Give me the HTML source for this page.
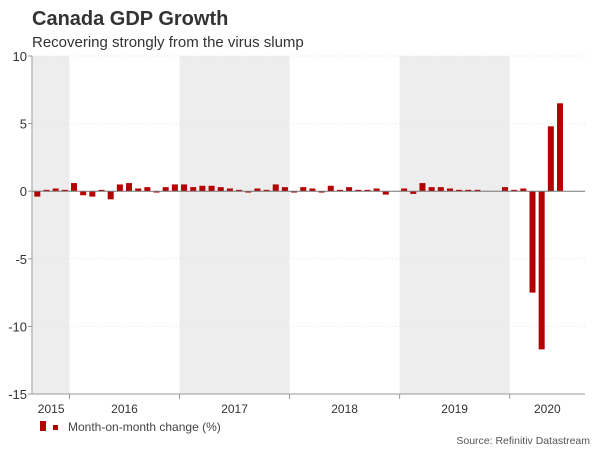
<!DOCTYPE html>
<html><head><meta charset="utf-8"><style>
body{margin:0;background:#fff;font-family:"Liberation Sans",Arial,sans-serif}
svg text{font-family:"Liberation Sans",Arial,sans-serif}
</style></head><body>
<svg id="c" width="600" height="450" viewBox="0 0 600 450">
<text x="32" y="25" font-size="20" font-weight="bold" fill="#333">Canada GDP Growth</text>
<text x="32" y="47" font-size="15" fill="#333">Recovering strongly from the virus slump</text>
<g id="bands"></g><g id="grid"></g><g id="bars"></g><g id="axes"></g>
<rect x="40" y="421" width="6" height="10" fill="#b30000"/>
<rect x="53" y="425" width="5" height="5" fill="#b30000"/>
<text x="68" y="431" font-size="12" fill="#444">Month-on-month change (%)</text>
<text x="590" y="444" font-size="10.5" fill="#555" text-anchor="end">Source: Refinitiv Datastream</text>
</svg>
<script>
const years=["2015","2016","2017","2018","2019","2020"];
const values2015=[-0.4,0.1,0.2,0.1];
const values2016=[0.6,-0.3,-0.4,0.1,-0.6,0.5,0.6,0.2,0.3,-0.1,0.3,0.5];
const values2017=[0.5,0.3,0.4,0.4,0.3,0.2,0.1,-0.1,0.2,0.1,0.5,0.3];
const values2018=[-0.1,0.3,0.2,-0.1,0.4,0.1,0.3,0.1,0.1,0.2,-0.25,0.02];
const values2019=[0.2,-0.2,0.6,0.3,0.3,0.2,0.1,0.1,0.1,0.02,0.02,0.3];
const values2020=[0.1,0.2,-7.5,-11.7,4.8,6.5];
const yTicks=[10,5,0,-5,-10,-15];
const values=[].concat(values2015,values2016,values2017,values2018,values2019,values2020);
const NS="http://www.w3.org/2000/svg";
const L=32,R=585,T=56,B=394,m=9.17,startX=69.5-4*m;
const y=v=>T+(10-v)*(B-T)/25;
const xm=i=>startX+i*m;
function mk(t,a,p){const e=document.createElementNS(NS,t);for(const k in a)e.setAttribute(k,a[k]);document.getElementById(p).appendChild(e);return e;}
const yb=[startX,69.5];for(let k=1;k<=5;k++)yb.push(69.5+k*12*m);
for(let k=0;k<years.length;k++){
 const x0=Math.max(L,yb[k]),x1=Math.min(R,yb[k+1]);
 if(k%2==0){const r=mk('rect',{x:x0,y:T,width:Math.max(0,x1-x0),height:B-T,fill:'#ededed'},'bands');
 
 }
 const t=mk('text',{x:(x0+x1)/2,y:413,'font-size':12,fill:'#333','text-anchor':'middle'},'axes');t.textContent=years[k];
 
 
 if(k>0)mk('line',{x1:yb[k],x2:yb[k],y1:B,y2:B+5,stroke:'#999'},'axes');
}
yTicks.forEach(v=>{
 if(v!==0&&v!==-15){const g=mk('line',{x1:L,x2:R,y1:y(v),y2:y(v),stroke:'#e4e4e4','stroke-dasharray':'1,2'},'grid');
 
 }
 mk('line',{x1:L-4,x2:L,y1:y(v),y2:y(v),stroke:'#999'},'axes');
 const t=mk('text',{x:L-5,y:y(v)+5,'font-size':13,fill:'#333','text-anchor':'end'},'axes');t.textContent=v;
 
 
});
values.forEach((v,i)=>{
 const r=mk('rect',{x:xm(i)+1.5,y:Math.min(y(v),y(0)),width:6,height:Math.abs(y(v)-y(0)),fill:'#b30000'},'bars');
 
 
});
mk('line',{x1:L,x2:R,y1:y(0),y2:y(0),stroke:'#777'},'axes');
mk('line',{x1:L,x2:L,y1:T,y2:B,stroke:'#999'},'axes');
mk('line',{x1:L,x2:R,y1:B,y2:B,stroke:'#999'},'axes');
</script>
</body></html>
